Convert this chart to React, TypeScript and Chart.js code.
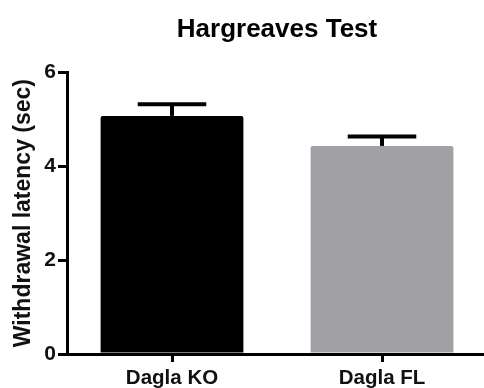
import React, { useEffect, useRef } from "react";
import { Chart, registerables } from "chart.js";

Chart.register(...registerables);

const categories = ["Dagla KO", "Dagla FL"];
const means = [5.07, 4.43];
const errors = [0.25, 0.2];
const barColors = ["#000000", "#a1a1a5"];
const yTicks = [0, 2, 4, 6];
const titleText = "Hargreaves Test";
const yTitleText = "Withdrawal latency (sec)";

const FONT = "'Liberation Sans', Arial, Helvetica, sans-serif";

const errorBarPlugin = {
  id: "errorBars",
  afterDatasetsDraw(chart: any) {
    const ctx = chart.ctx;
    const meta = chart.getDatasetMeta(0);
    const yScale = chart.scales.y;
    ctx.save();
    ctx.strokeStyle = "#000";
    ctx.lineWidth = 4;
    ctx.lineCap = "butt";
    meta.data.forEach((el: any, i: number) => {
      const x = el.x;
      const yMean = yScale.getPixelForValue(means[i]);
      const yTop = yScale.getPixelForValue(means[i] + errors[i]);
      const half = el.width * 0.24;
      ctx.beginPath();
      ctx.moveTo(x, yMean);
      ctx.lineTo(x, yTop);
      ctx.stroke();
      ctx.beginPath();
      ctx.moveTo(x - half, yTop);
      ctx.lineTo(x + half, yTop);
      ctx.stroke();
    });
    ctx.restore();
  },
};

export default function App() {
  const ref = useRef<HTMLCanvasElement | null>(null);
  useEffect(() => {
    if (!ref.current) return;
    const chart = new Chart(ref.current, {
      type: "bar",
      data: {
        labels: categories,
        datasets: [
          {
            data: means,
            backgroundColor: barColors,
            borderWidth: 0,
            borderRadius: 2,
            borderSkipped: "bottom",
            barPercentage: 0.68,
            categoryPercentage: 1,
          },
        ],
      },
      options: {
        responsive: false,
        animation: false,
        maintainAspectRatio: false,
        layout: { padding: { left: 0, right: 0, top: 0, bottom: 0 } },
        plugins: {
          legend: { display: false },
          tooltip: { enabled: false },
          title: {
            display: true,
            text: titleText,
            fullSize: false,
            color: "#000",
            font: { family: FONT, size: 26, weight: "bold", lineHeight: 1.2 },
            padding: { top: 14, bottom: 27 },
          },
        },
        scales: {
          x: {
            type: "category",
            offset: true,
            border: { display: true, color: "#000", width: 3 },
            grid: {
              display: true,
              offset: false,
              drawOnChartArea: false,
              drawTicks: true,
              tickLength: 8,
              color: "#000",
              lineWidth: 3,
            },
            ticks: {
              color: "#111",
              padding: 4,
              font: { family: FONT, size: 20.5, weight: "bold" },
              maxRotation: 0,
            },
            afterFit: (scale: any) => {
              scale.height = 34;
            },
          },
          y: {
            min: 0,
            max: 6,
            afterBuildTicks: (scale: any) => {
              scale.ticks = yTicks.map((v) => ({ value: v }));
            },
            border: { display: true, color: "#000", width: 3 },
            grid: {
              display: true,
              drawOnChartArea: false,
              drawTicks: true,
              tickLength: 9,
              color: "#000",
              lineWidth: 3,
            },
            ticks: {
              color: "#111",
              padding: 2,
              font: { family: FONT, size: 21, weight: "bold" },
            },
            title: {
              display: true,
              text: yTitleText,
              color: "#111",
              font: { family: FONT, size: 23, weight: "bold", lineHeight: 1.2 },
              padding: { top: 10, bottom: 0 },
            },
            afterFit: (scale: any) => {
              scale.width = 67;
            },
          },
        },
      },
      plugins: [errorBarPlugin],
    });
    return () => chart.destroy();
  }, []);
  return (
    <div
      style={{
        position: "fixed",
        left: 0,
        top: 0,
        width: 487,
        height: 388,
        background: "#fff",
      }}
    >
      <canvas ref={ref} width={487} height={388} style={{ display: "block" }} />
    </div>
  );
}
